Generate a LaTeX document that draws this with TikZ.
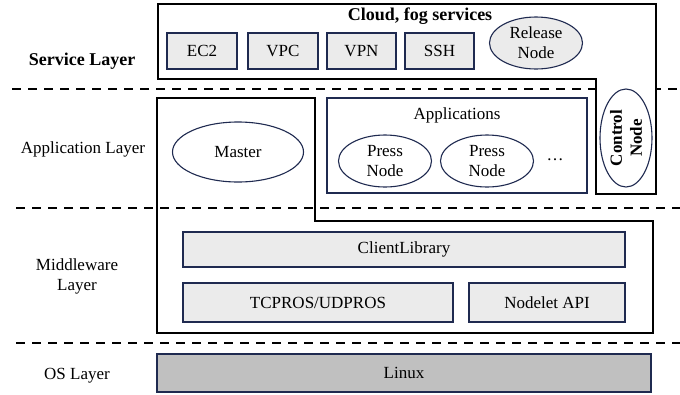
\documentclass[tikz,border=0pt]{standalone}
\usepackage{fontspec}
\setmainfont{Liberation Serif}
\usetikzlibrary{shapes.geometric}

\definecolor{navy}{RGB}{31,42,80}
\definecolor{boxgray}{RGB}{235,235,235}
\definecolor{osgray}{RGB}{192,192,192}

\begin{document}
\begin{tikzpicture}[x=1pt, y=-1pt, font=\fontsize{17}{20}\selectfont,
		layer_style/.style={align=center},
		bold_style/.style={font=\fontsize{18}{20}\selectfont\bfseries},
		box_style/.style={rectangle,draw=navy,fill=boxgray,line width=1.1pt,inner sep=0pt},
		oval_style/.style={ellipse,draw=navy,fill=white,line width=1.1pt,inner sep=0pt,align=center},
		frame_style/.style={draw=black,line width=1.1pt},
		sep_style/.style={draw=black,line width=1.4pt,dash pattern=on 9pt off 7pt}]

		\useasboundingbox (0,0) rectangle (680,394);

		% layer separators
		\draw[sep_style] (12,89) -- (680,89);

		% service layer
		\draw[frame_style,fill=white] (158,4) -- (656,4) -- (656,194) -- (596,194) -- (596,79) -- (158,79) -- cycle;
		\node[bold_style] (cloud) at (420,16) {Cloud, fog services};
		\node[box_style,minimum width=70pt,minimum height=36pt] (ec2) at (202,51) {EC2};
		\node[box_style,minimum width=70pt,minimum height=36pt] (vpc) at (283,51) {VPC};
		\node[box_style,minimum width=69pt,minimum height=36pt] (vpn) at (361.5,51) {VPN};
		\node[box_style,minimum width=69pt,minimum height=36pt] (ssh) at (439.5,51) {SSH};
		\node[oval_style,fill=boxgray,minimum width=93pt,minimum height=52pt] (release) at (536,43) {Release\\Node};
		\node[oval_style,rotate=90,minimum width=98pt,minimum height=52pt,font=\fontsize{17}{20}\selectfont\bfseries] (control) at (626,138) {Control\\Node};

		% application and middleware layers
		\draw[frame_style] (157,98) -- (315,98) -- (315,221) -- (653,221) -- (653,333) -- (157,333) -- cycle;
		\node[oval_style,minimum width=131pt,minimum height=60pt] (master) at (238,152) {Master};
		\node[rectangle,draw=navy,line width=1.1pt,minimum width=260pt,minimum height=95pt] (apps) at (457,145.5) {};
		\node (appslabel) at (457,115) {Applications};
		\node[oval_style,minimum width=93pt,minimum height=52pt] (press1) at (385,161) {Press\\Node};
		\node[oval_style,minimum width=93pt,minimum height=52pt] (press2) at (487,161) {Press\\Node};
		\node (dots) at (555,160) {\dots};

		\node[box_style,minimum width=442pt,minimum height=35pt] (client) at (404,249.5) {ClientLibrary};
		\node[box_style,minimum width=270pt,minimum height=39pt] (tcpros) at (318,302.5) {TCPROS/UDPROS};
		\node[box_style,minimum width=156pt,minimum height=39pt] (nodelet) at (547,302.5) {Nodelet API};

		\draw[sep_style] (16,208) -- (680,208);
		\draw[sep_style] (16,343) -- (680,343);

		% os layer
		\node[box_style,fill=osgray,minimum width=494pt,minimum height=38pt] (linux) at (404,373) {Linux};

		% layer names
		\node[layer_style,bold_style] (service) at (82,61) {Service Layer};
		\node[layer_style] (application) at (83,149) {Application Layer};
		\node[layer_style] (middleware) at (77,276) {Middleware\\Layer};
		\node[layer_style] (os) at (77,376) {OS Layer};

\end{tikzpicture}
\end{document}
